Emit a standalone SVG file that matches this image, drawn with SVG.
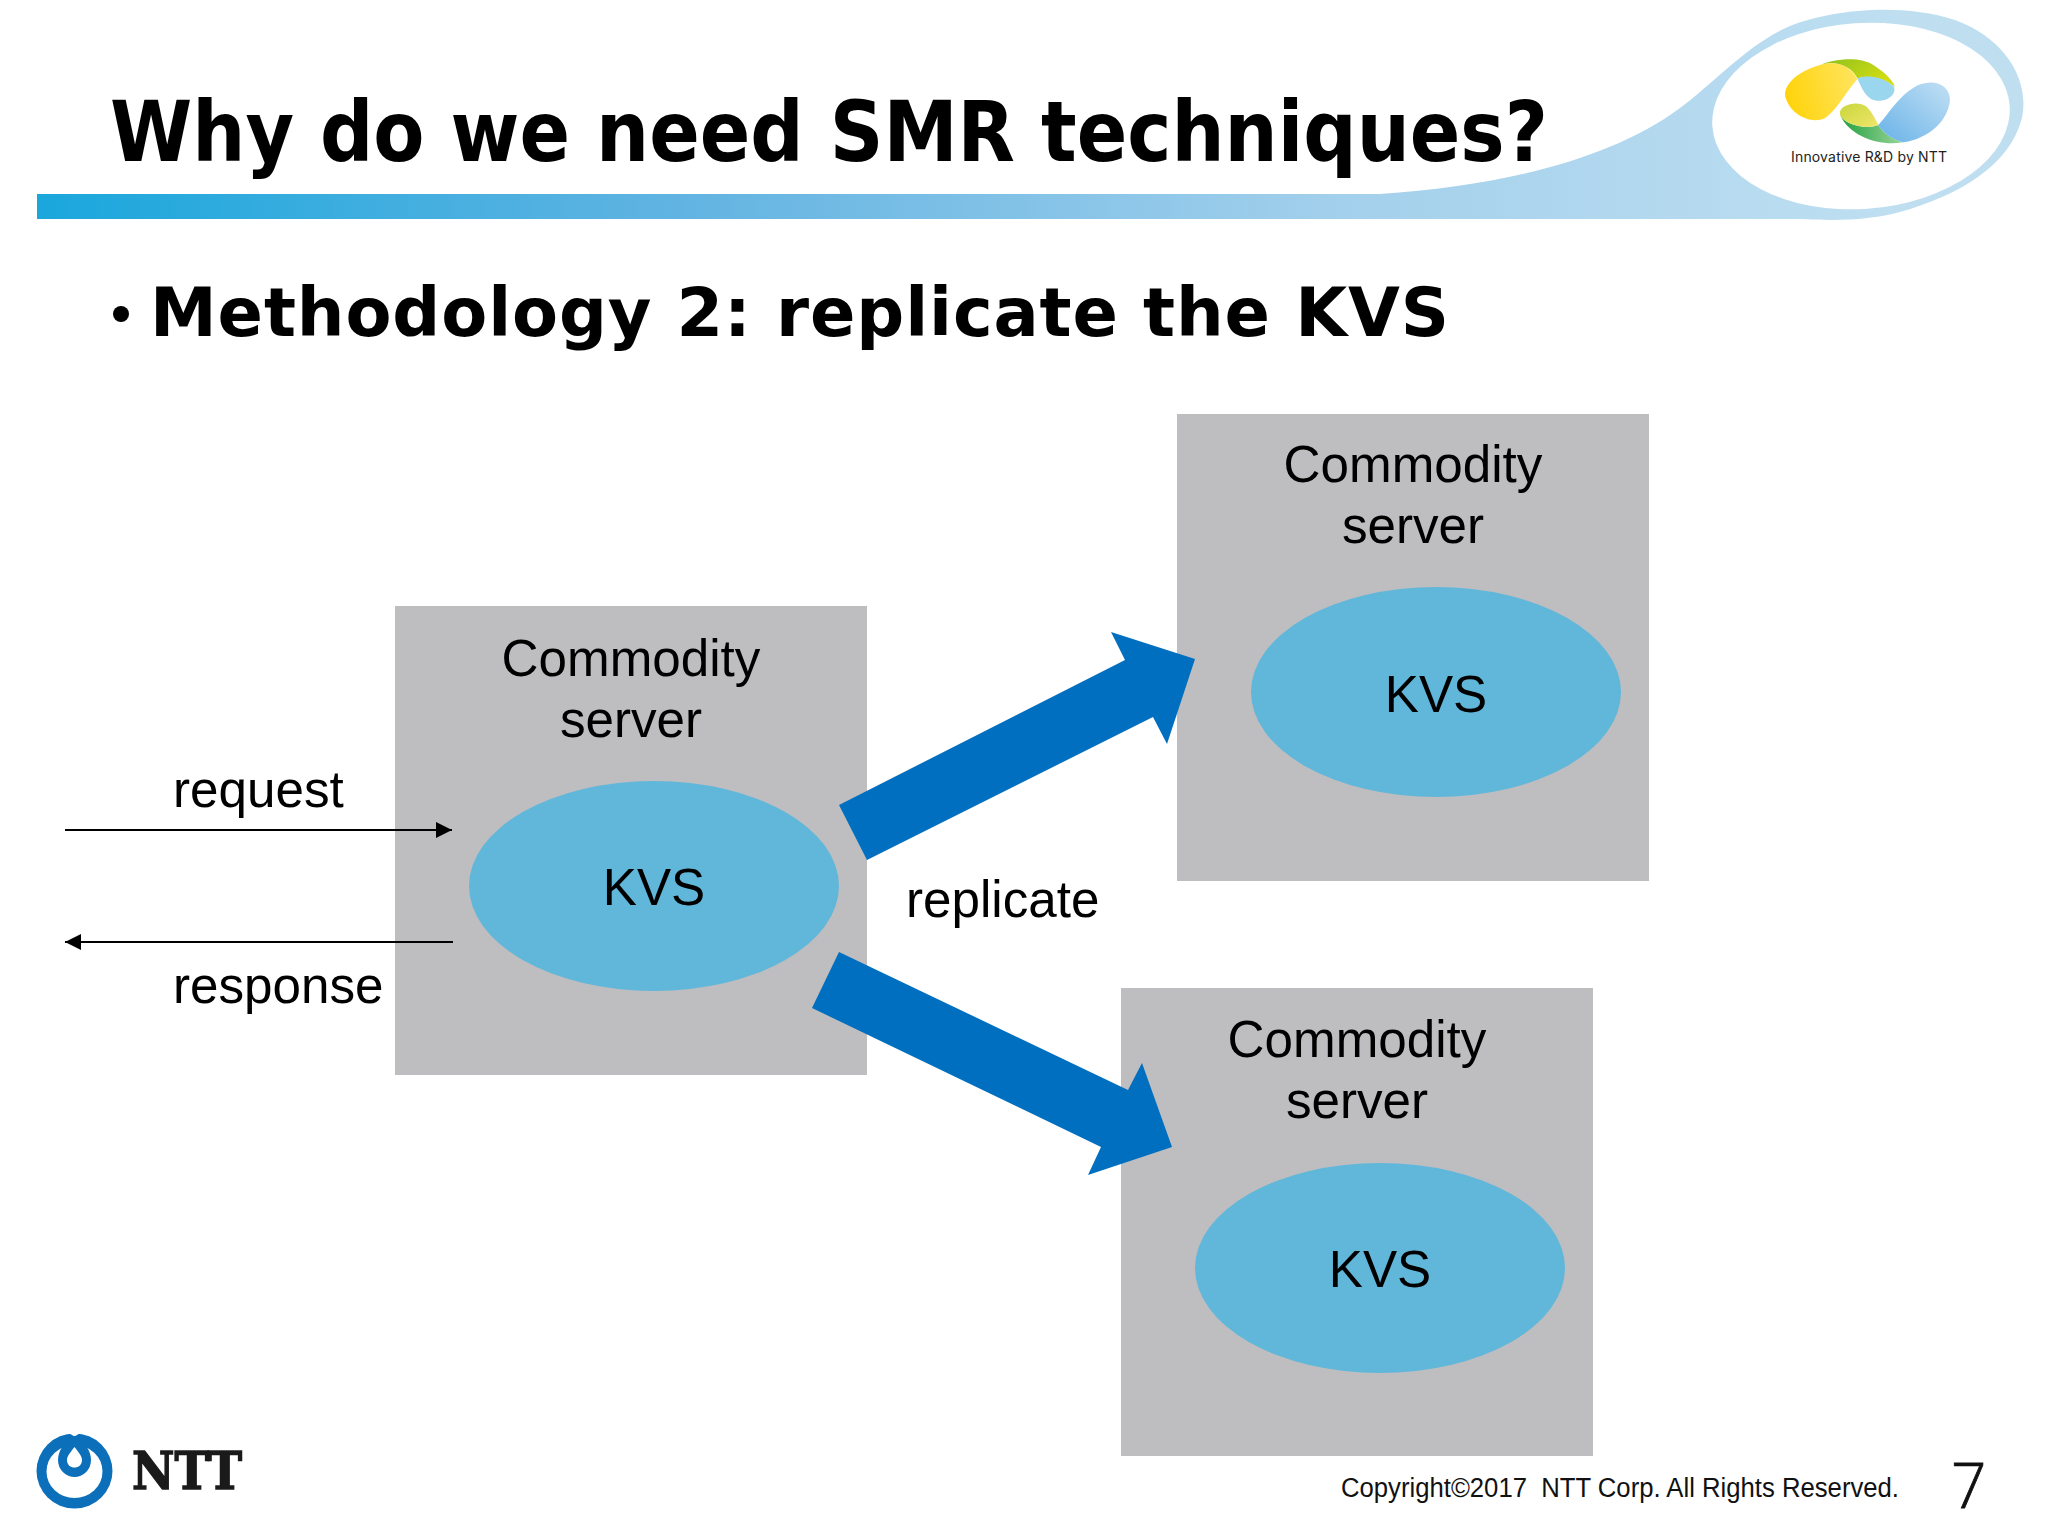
<svg xmlns="http://www.w3.org/2000/svg" width="2048" height="1536" viewBox="0 0 2048 1536">
<style>
.t{font-family:"Liberation Sans",Arial,sans-serif;font-size:51.2px;fill:#000}
.m{text-anchor:middle}
.h{font-family:"DejaVu Sans",sans-serif;font-weight:bold;fill:#000}
.box{fill:#bebdbf}
.ell{fill:#61b7da}
.big{fill:#006fc0}
.thin{stroke:#000;stroke-width:2;fill:none}
.nb{fill:#0b6fba}
</style>
<defs>
<linearGradient id="band" gradientUnits="userSpaceOnUse" x1="37" y1="0" x2="1900" y2="0">
<stop offset="0" stop-color="#1aa7dc"/><stop offset="0.35" stop-color="#62b4e2"/><stop offset="0.7" stop-color="#a3d0ec"/><stop offset="1" stop-color="#bfdff1"/>
</linearGradient>
<linearGradient id="yel" x1="0" y1="0.6" x2="1" y2="0.4"><stop offset="0" stop-color="#ffd30a"/><stop offset="1" stop-color="#ffe45c"/></linearGradient>
<linearGradient id="grn" x1="0" y1="0" x2="1" y2="0.5"><stop offset="0" stop-color="#8cc020"/><stop offset="1" stop-color="#d3dd10"/></linearGradient>
<linearGradient id="blu" x1="0" y1="1" x2="1" y2="0"><stop offset="0" stop-color="#68b2e8"/><stop offset="1" stop-color="#c2e0f4"/></linearGradient>
<linearGradient id="grn2" x1="0" y1="0" x2="1" y2="0"><stop offset="0" stop-color="#20a040"/><stop offset="1" stop-color="#9cd59a"/></linearGradient>
<linearGradient id="lime" x1="0" y1="0" x2="1" y2="1"><stop offset="0" stop-color="#c8d63c"/><stop offset="1" stop-color="#f0e66a"/></linearGradient>
<marker id="ah" viewBox="0 0 10 10" refX="10" refY="5" markerWidth="8" markerHeight="8" orient="auto-start-reverse" markerUnits="strokeWidth"><path d="M0 0L10 5L0 10Z" fill="#000"/></marker>
</defs>

<g id="header">
<path fill="url(#band)" d="M37 194H1380C1500 186 1610 160 1680 108C1715 82 1748 44 1790 26C1830 10 1900 2 1955 20C2005 38 2030 80 2022 118C2010 165 1960 195 1900 212C1870 220 1840 221 1800 219H37Z"/>
<ellipse cx="1861" cy="116" rx="149" ry="93" fill="#fff" transform="rotate(-4 1861 116)"/>
</g>

<g id="title"><text class="h" x="110" y="161" font-size="84" textLength="1438" lengthAdjust="spacingAndGlyphs">Why do we need SMR techniques?</text></g>
<g id="bullet">
<circle cx="121" cy="314" r="8" fill="#000"/>
<text class="h" x="150" y="336" font-size="67" textLength="1299" lengthAdjust="spacing">Methodology 2: replicate the KVS</text>
</g>

<g id="innovative-logo" transform="translate(1770 50) scale(0.3333)">
<path fill="url(#grn)" d="M150 45C200 25 270 20 310 45C340 65 365 85 375 110C340 85 300 75 262 85C245 50 200 30 150 45Z"/>
<path fill="#9bd6ef" d="M262 85C300 72 345 85 372 110C380 135 350 155 320 152C290 150 275 115 262 85Z"/>
<path fill="url(#yel)" d="M150 45C200 30 245 50 262 88C225 130 205 175 165 205C120 225 55 190 45 135C45 95 95 60 150 45Z"/>
<path fill="url(#grn2)" d="M210 195C225 225 290 240 325 225C340 250 370 270 400 277C330 290 240 260 210 195Z"/>
<path fill="url(#lime)" d="M210 185C215 165 260 150 290 170C305 185 315 205 325 225C290 240 225 225 210 195Z"/>
<path fill="url(#blu)" d="M325 225C355 195 385 135 445 105C495 85 540 105 540 150C535 210 480 265 400 277C370 270 340 250 325 225Z"/>
</g>
<text x="1791" y="162" font-family="Inter,'Liberation Sans',sans-serif" font-size="14" textLength="156" fill="#222">Innovative R&amp;D by NTT</text>

<g id="server-left">
<rect class="box" x="395" y="606" width="472" height="469"/>
<text class="t m" x="631" y="676">Commodity</text>
<text class="t m" x="631" y="737">server</text>
<ellipse class="ell" cx="654" cy="886" rx="185" ry="105"/>
<text class="t m" x="654" y="905">KVS</text>
</g>
<g id="server-top">
<rect class="box" x="1177" y="414" width="472" height="467"/>
<text class="t m" x="1413" y="482">Commodity</text>
<text class="t m" x="1413" y="543">server</text>
<ellipse class="ell" cx="1436" cy="692" rx="185" ry="105"/>
<text class="t m" x="1436" y="712">KVS</text>
</g>
<g id="server-bottom">
<rect class="box" x="1121" y="988" width="472" height="468"/>
<text class="t m" x="1357" y="1057">Commodity</text>
<text class="t m" x="1357" y="1118">server</text>
<ellipse class="ell" cx="1380" cy="1268" rx="185" ry="105"/>
<text class="t m" x="1380" y="1287">KVS</text>
</g>

<g id="connectors">
<path class="big" d="M839 805L867 860L1153 717L1167 744L1195 659L1111 632L1125 660Z"/>
<path class="big" d="M839 952L812 1008L1101 1147L1088 1175L1172 1147L1142 1063L1128 1090Z"/>
<line class="thin" x1="65" y1="830" x2="452" y2="830" marker-end="url(#ah)"/>
<line class="thin" x1="453" y1="942" x2="65" y2="942" marker-end="url(#ah)"/>
</g>
<g id="labels">
<text class="t" x="173" y="807">request</text>
<text class="t" x="173" y="1003">response</text>
<text class="t" x="906" y="917">replicate</text>
</g>

<g id="ntt-logo">
<ellipse class="nb" cx="74.5" cy="1471" rx="38" ry="37.5"/>
<path d="M67 1432H82L74.500 1436.500Z" fill="#fff"/>
<ellipse cx="74.500" cy="1471.500" rx="28" ry="26.500" fill="#fff"/>
<path class="nb" d="M74.500 1436C86 1442 91 1452 91 1460C91 1470 83 1477 74.500 1477C66 1477 58 1470 58 1460C58 1452 63 1442 74.500 1436Z"/>
<path fill="#fff" d="M74.500 1447C79 1453 82 1456 82 1460C82 1465 78.500 1467.500 74.500 1467.500C70.500 1467.500 67 1465 67 1460C67 1456 70 1453 74.500 1447Z"/>
<text x="132" y="1489" font-family="'DejaVu Serif',serif" font-weight="bold" font-size="52" textLength="110" lengthAdjust="spacingAndGlyphs" stroke="#1a1a1a" stroke-width="1.500" fill="#1a1a1a">NTT</text>
</g>
<text x="1341" y="1497" font-family="'Liberation Sans',sans-serif" font-size="27" textLength="558" lengthAdjust="spacingAndGlyphs" style="white-space:pre" fill="#111">Copyright©2017  NTT Corp. All Rights Reserved.</text>
<text x="1951" y="1508" font-family="'Open Sans',sans-serif" font-weight="300" font-size="62" stroke="#111" stroke-width="0.800" fill="#111">7</text>
</svg>
